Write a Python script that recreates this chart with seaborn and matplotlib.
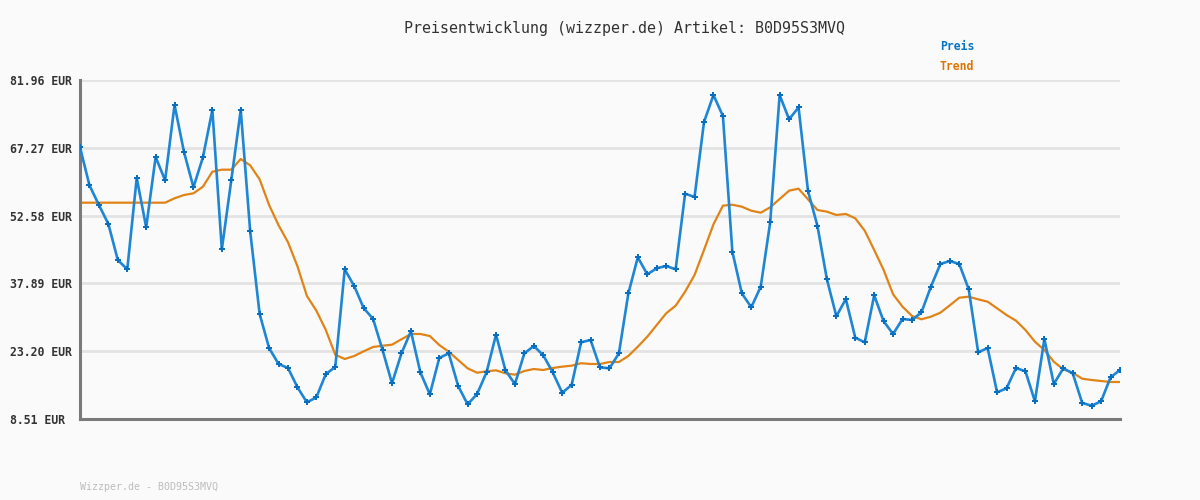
"""
Price history chart for one article (wizzper.de style): price with markers
plus a smoothed trend line, y ticks labelled in EUR.
"""
import matplotlib
matplotlib.use("Agg")
import matplotlib.pyplot as plt
import pandas as pd
import seaborn as sns

ARTICLE = "B0D95S3MVQ"

preis = [
    67.38, 59.14, 54.88, 50.76, 42.96, 40.94, 60.73, 50.04, 65.28, 60.22,
    76.54, 66.36, 58.71, 65.21, 75.46, 45.27, 60.22, 75.46, 49.17, 31.26,
    23.89, 20.43, 19.56, 15.38, 12.12, 13.20, 18.26, 19.77, 40.94, 37.33,
    32.56, 30.18, 23.46, 16.24, 22.74, 27.51, 18.62, 13.85, 21.73, 22.74,
    15.66, 11.69, 13.93, 18.62, 26.78, 19.05, 16.09, 22.74, 24.33, 22.31,
    18.62, 14.20, 15.88, 25.12, 25.63, 19.70, 19.49, 22.74, 35.74, 43.54,
    39.86, 41.16, 41.66, 40.94, 57.33, 56.61, 72.86, 78.71, 74.16, 44.76,
    35.74, 32.71, 37.18, 51.12, 78.71, 73.44, 76.04, 57.91, 50.33, 38.77,
    30.76, 34.51, 26.13, 25.12, 35.31, 29.68, 26.93, 30.18, 29.96, 31.63,
    37.18, 42.09, 42.74, 42.09, 36.61, 22.96, 23.89, 14.29, 15.16, 19.56,
    18.84, 12.34, 25.84, 16.09, 19.49, 18.41, 11.99, 11.39, 12.34, 17.54,
    19.13,
]

# trend (moving average) per observation
trend = [
    55.38, 55.38, 55.38, 55.38, 55.38, 55.38, 55.38, 55.38, 55.38, 55.38,
    56.33, 57.04, 57.41, 58.84, 62.09, 62.53, 62.53, 64.84, 63.47, 60.44,
    54.88, 50.50, 46.80, 41.60, 35.16, 31.98, 27.79, 22.44, 21.51, 22.16,
    23.17, 24.11, 24.39, 24.61, 25.78, 26.93, 26.93, 26.49, 24.54, 23.09,
    21.29, 19.49, 18.54, 18.84, 19.06, 18.41, 18.11, 18.91, 19.34, 19.13,
    19.56, 19.85, 20.06, 20.60, 20.43, 20.43, 20.86, 20.86, 22.16, 24.18,
    26.34, 28.87, 31.41, 33.06, 36.09, 39.71, 45.13, 50.69, 54.73, 54.94,
    54.51, 53.64, 53.21, 54.37, 56.18, 57.98, 58.41, 56.11, 53.79, 53.43,
    52.71, 52.93, 51.99, 49.31, 45.13, 40.80, 35.53, 32.84, 30.83, 30.11,
    30.68, 31.54, 33.14, 34.79, 35.01, 34.44, 33.93, 32.49, 31.04, 29.81,
    27.79, 25.26, 23.46, 20.93, 19.27, 18.54, 17.24, 16.96, 16.74, 16.53,
    16.53,
]

y_ticks = [8.51, 23.20, 37.89, 52.58, 67.27, 81.96]

BLUE = "#1f86d4"
BLUE_TXT = "#0a74c4"
ORANGE = "#e08418"
ORANGE_TXT = "#db7506"
BG = "#fafafa"

df = pd.DataFrame({"idx": range(len(preis)), "preis": preis, "trend": trend})

sns.set_style("white")
plt.rcParams["font.family"] = ["DejaVu Sans Mono", "DejaVu Sans"]

fig = plt.figure(figsize=(12, 5), dpi=100, facecolor=BG)
ax = fig.add_axes([80 / 1200, 1 - 419 / 500, 1040 / 1200, 339 / 500])
ax.set_facecolor(BG)

for v in y_ticks[1:]:
    ax.axhline(v, color="#e3e3e3", lw=2, zorder=0)

sns.lineplot(data=df, x="idx", y="trend", color=ORANGE, lw=1.6, ax=ax, zorder=2)
sns.lineplot(data=df, x="idx", y="preis", color=BLUE, lw=1.9, marker="P",
             markersize=4.2, markeredgewidth=0, markerfacecolor="#0b6fc0",
             ax=ax, zorder=3)

ax.set_xlim(0, len(preis) - 1)
ax.set_ylim(y_ticks[0], y_ticks[-1])
ax.set_xticks([])
ax.set_yticks(y_ticks)
ax.set_yticklabels([f"{v:.2f} EUR" for v in y_ticks], fontsize=8.3,
                   fontweight="bold", color="#333333")
for lab in ax.get_yticklabels():
    lab.set_horizontalalignment("left")
ax.tick_params(axis="y", length=0, pad=50.4)
ax.set_xlabel("")
ax.set_ylabel("")

for side in ("top", "right"):
    ax.spines[side].set_visible(False)
for side in ("left", "bottom"):
    ax.spines[side].set_color("#7a7a7a")
    ax.spines[side].set_linewidth(2.2)

fig.text(624 / 1200, 1 - 28 / 500, f"Preisentwicklung (wizzper.de) Artikel: {ARTICLE}",
         ha="center", va="center", fontsize=10.8, color="#333333")
fig.text(940 / 1200, 1 - 47 / 500, "Preis", ha="left", va="center",
         fontsize=8.3, fontweight="bold", color=BLUE_TXT)
fig.text(940 / 1200, 1 - 67 / 500, "Trend", ha="left", va="center",
         fontsize=8.3, fontweight="bold", color=ORANGE_TXT)
fig.text(80 / 1200, 1 - 487 / 500, f"Wizzper.de - {ARTICLE}", ha="left", va="center",
         fontsize=7.2, color="#bdbdbd")

fig.savefig("out.png", dpi=100, facecolor=BG)
